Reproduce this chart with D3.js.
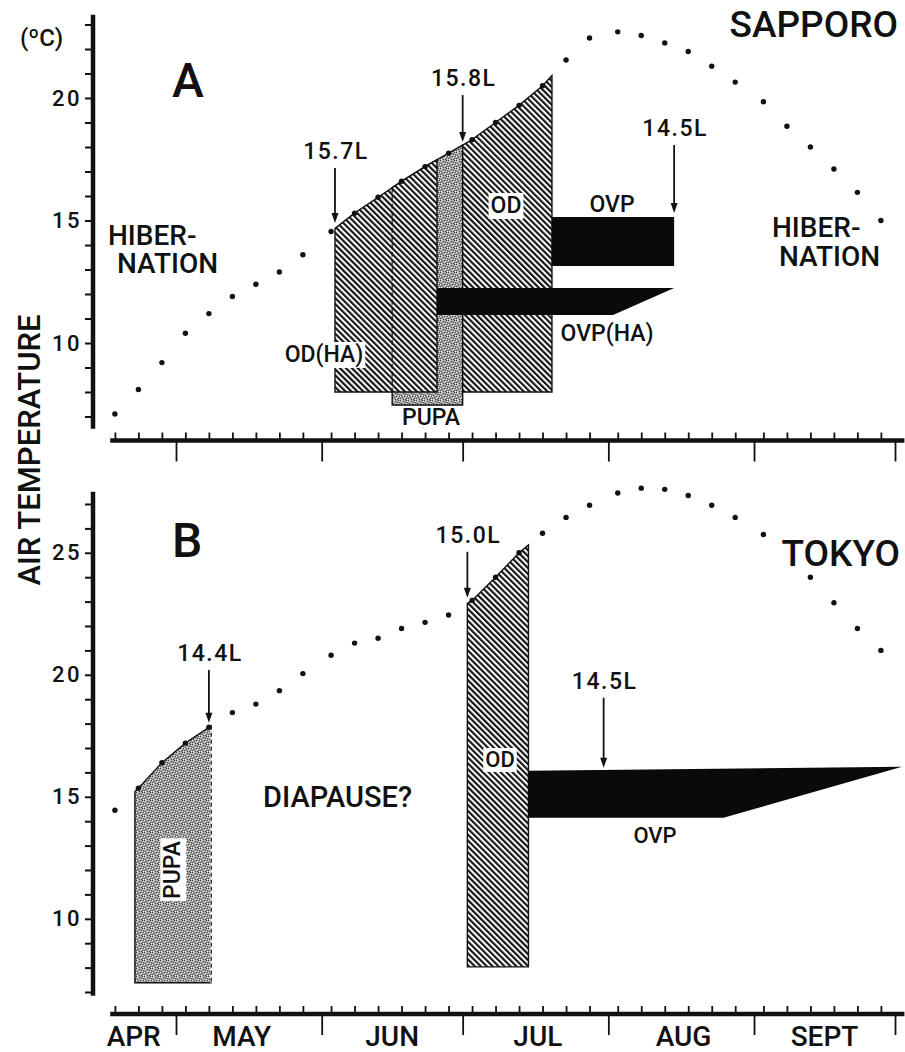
<!DOCTYPE html>
<html>
<head>
<meta charset="utf-8">
<script src="https://cdnjs.cloudflare.com/ajax/libs/d3/7.8.5/d3.min.js"></script>
<style>
  body { margin: 0; background: #fff; }
  svg { display: block; }
  text { font-family: Roboto, "Liberation Sans", sans-serif; fill: #111; font-weight: 500; }
</style>
</head>
<body>
<div id="chart"></div>
<script>
// pentad mid dates, one dot per 5-day period
var pentads = ["04-18","04-23","04-28",
  "05-03","05-08","05-13","05-18","05-23","05-28",
  "06-03","06-08","06-13","06-18","06-23","06-28",
  "07-03","07-08","07-13","07-18","07-23","07-28",
  "08-03","08-08","08-13","08-18","08-23","08-28",
  "09-03","09-08","09-13","09-18","09-23","09-28"];

// mean air temperature (C) per pentad
var sapporo = [7.1, 8.1, 9.2,
  10.4, 11.2, 11.9, 12.4, 12.9, 13.6,
  14.55, 15.3, 15.95, 16.6, 17.2, 17.75,
  18.3, 19.0, 19.7, 20.5, 21.55, 22.45,
  22.7, 22.55, 22.25, 21.9, 21.3, 20.65,
  19.85, 18.85, 18.0, 17.1, 16.15, 15.0];
var tokyo = [14.45, 15.35, 16.4,
  17.2, 17.85, 18.45, 18.8, 19.35, 20.05,
  20.8, 21.3, 21.5, 21.9, 22.15, 22.45,
  23.05, 24.0, 25.0, 25.8, 26.45, 26.95,
  27.45, 27.65, 27.6, 27.35, 26.95, 26.45,
  25.75, null, 24.0, 22.95, 21.9, 21.0];

var monthNames = ["APR","MAY","JUN","JUL","AUG","SEPT"];
var monthLabelDates = ["04-22","05-15","06-16","07-17","08-17","09-16"];
var monthStarts = ["05-01","06-01","07-01","08-01","09-01","10-01"];
var yLabelsA = [10, 15, 20];
var yLabelsB = [10, 15, 20, 25];

// developmental stages (top follows the temperature curve)
var stagesA = [
  {name: "PUPA",   start: "06-16",       end: "07-01",       low: 7.47, fill: "stipple", dashStart: 8.0},
  {name: "OD(HA)", start: "06-03T20:00", end: "06-25T13:00", low: 8.0,  fill: "hatch"},
  {name: "OD",     start: "07-01",       end: "07-20",       low: 8.0,  fill: "hatch"}
];
var stagesB = [
  {name: "PUPA", start: "04-22T06:00", end: "05-08T12:00", low: 7.38, fill: "stipple", dashEnd: true},
  {name: "OD",   start: "07-02",       end: "07-15",       low: 8.03, fill: "hatch"}
];

// oviposition bars
var barsA = [
  {name: "OVP(HA)", start: "06-25T13:00", end: "08-15", endLow: "08-02", top: 12.24, topEnd: 12.24, low: 11.14},
  {name: "OVP",     start: "07-20",       end: "08-15", endLow: "08-15", top: 15.14, topEnd: 15.14, low: 13.14}
];
var barsB = [
  {name: "OVP", start: "07-15", end: "10-02T12:00", endLow: "08-25T12:00", top: 16.07, topEnd: 16.23, low: 14.14}
];

// critical photoperiod arrows
var arrowsA = [
  {label: "15.7L", date: "06-03T20:00", from: 17.14, to: 14.9},
  {label: "15.8L", date: "07-01",       from: 20.12, to: 18.2},
  {label: "14.5L", date: "08-15",       from: 18.08, to: 15.31}
];
var arrowsB = [
  {label: "14.4L", date: "05-08",       from: 20.2,  to: 18.03},
  {label: "15.0L", date: "07-02",       from: 25.04, to: 23.16},
  {label: "14.5L", date: "07-31",       from: 19.06, to: 16.19}
];

function day(s) { return new Date("2001-" + s + (s.length == 5 ? "T00:00" : "")); }
var pentadDates = pentads.map(day);

var W = 905, H = 1052;
var svg = d3.select("#chart").append("svg").attr("width", W).attr("height", H);
var defs = svg.append("defs");

var hatch = defs.append("pattern").attr("id", "hatch")
    .attr("patternUnits", "userSpaceOnUse")
    .attr("width", 4.2).attr("height", 10)
    .attr("patternTransform", "rotate(-45)");
hatch.append("rect").attr("width", 4.2).attr("height", 10).attr("fill", "#fff");
hatch.append("line").attr("x1", 1.1).attr("x2", 1.1).attr("y1", 0).attr("y2", 10)
    .attr("stroke", "#0d0d0d").attr("stroke-width", 2.1);

// speckled grey for pupa
var stip = defs.append("pattern").attr("id", "stipple")
    .attr("patternUnits", "userSpaceOnUse").attr("width", 8).attr("height", 8);
stip.append("rect").attr("width", 8).attr("height", 8).attr("fill", "#a4a4a4");
[[0,0],[3,1],[6,0],[1,3],[5,2],[7,4],[2,5],[4,4],[0,6],[6,6],[3,7],[5,7],[7,2]].forEach(function(p) {
  stip.append("rect").attr("x", p[0]).attr("y", p[1]).attr("width", 1).attr("height", 1).attr("fill", "#444");
});
[[2,0],[5,5],[7,1],[0,4],[3,3],[6,3],[1,7],[4,6],[7,7],[1,1]].forEach(function(p) {
  stip.append("rect").attr("x", p[0]).attr("y", p[1]).attr("width", 1).attr("height", 1).attr("fill", "#e4e4e4");
});

var x = d3.scaleTime().domain([day("05-01"), day("10-01")]).range([176, 895]);

var panels = [
  {vals: sapporo, y: d3.scaleLinear().domain([7, 23]).range([416.5, 24.5]), axisY: 440.5,
   yExt: [6.5, 23.4], ticks: d3.range(7, 24), labels: yLabelsA,
   stages: stagesA, bars: barsA, arrows: arrowsA, months: false},
  {vals: tokyo, y: d3.scaleLinear().domain([7, 27]).range([992, 504]), axisY: 1014,
   yExt: [6.85, 27.5], ticks: d3.range(7, 28), labels: yLabelsB,
   stages: stagesB, bars: barsB, arrows: arrowsB, months: true}
];

function tempAt(vals, t) {
  var i = d3.bisectRight(pentadDates, t);
  var a = i - 1, b = i;
  var f = (t - pentadDates[a]) / (pentadDates[b] - pentadDates[a]);
  return vals[a] + f * (vals[b] - vals[a]);
}

function note(g, txt, px, py, o) {
  o = o || {};
  var t = g.append("text").attr("x", px).attr("y", py).text(txt)
      .attr("font-size", o.size || 23)
      .attr("text-anchor", o.anchor || "start");
  if (o.ls) t.attr("letter-spacing", o.ls);
  if (o.dy) t.attr("dy", o.dy);
  if (o.rotate) t.attr("transform", "rotate(" + o.rotate + "," + px + "," + py + ")");
  if (o.bg) {
    var b = t.node().getBBox();
    var r = g.insert("rect", function() { return t.node(); })
        .attr("x", b.x - 2).attr("y", b.y + 1).attr("width", b.width + 4).attr("height", b.height - 1)
        .attr("fill", "#fff");
    if (o.rotate) r.attr("transform", t.attr("transform"));
  }
  return t;
}

// two-line label in one text element
function note2(g, l1, x1, l2, x2, py, gap, size) {
  var t = g.append("text").attr("font-size", size);
  t.append("tspan").attr("x", x1).attr("y", py).text(l1);
  t.append("tspan").attr("x", x2).attr("y", py + gap).text(l2);
  return t;
}

var line = d3.line();

panels.forEach(function(p) {
  var g = svg.append("g");
  var y = p.y;

  // stage polygons
  p.stages.forEach(function(s) {
    var t0 = day(s.start), t1 = day(s.end);
    var pts = [[x(t0), y(s.low)], [x(t0), y(tempAt(p.vals, t0))]];
    pentadDates.forEach(function(d, i) {
      if (d > t0 && d < t1 && p.vals[i] != null) pts.push([x(d), y(p.vals[i])]);
    });
    pts.push([x(t1), y(tempAt(p.vals, t1))], [x(t1), y(s.low)]);
    g.append("path").attr("d", line(pts) + "Z")
        .attr("fill", "url(#" + s.fill + ")")
        .attr("stroke", "#111").attr("stroke-width", 1.4);
    if (s.dashEnd) {
      g.append("line").attr("x1", x(t1)).attr("x2", x(t1))
          .attr("y1", y(tempAt(p.vals, t1))).attr("y2", y(s.low))
          .attr("stroke", "#fff").attr("stroke-width", 2);
      g.append("line").attr("x1", x(t1)).attr("x2", x(t1))
          .attr("y1", y(tempAt(p.vals, t1))).attr("y2", y(s.low))
          .attr("stroke", "#222").attr("stroke-width", 1.3).attr("stroke-dasharray", "4,3");
    }
    s._t0 = t0;
  });
  p.stages.forEach(function(s) {
    if (s.dashStart != null) {
      g.append("line").attr("x1", x(s._t0)).attr("x2", x(s._t0))
          .attr("y1", y(tempAt(p.vals, s._t0))).attr("y2", y(s.dashStart))
          .attr("stroke", "#111").attr("stroke-width", 1.2).attr("stroke-dasharray", "5,3");
    }
  });

  // oviposition bars
  p.bars.forEach(function(b) {
    var pts = [[x(day(b.start)), y(b.top)], [x(day(b.end)), y(b.topEnd)],
               [x(day(b.endLow)), y(b.low)], [x(day(b.start)), y(b.low)]];
    g.append("path").attr("d", line(pts) + "Z").attr("fill", "#0a0a0a");
  });

  // temperature dots
  g.selectAll("circle.t").data(p.vals.map(function(v, i) { return {d: pentadDates[i], v: v}; })
      .filter(function(d) { return d.v != null; }))
    .enter().append("circle")
      .attr("cx", function(d) { return x(d.d); })
      .attr("cy", function(d) { return y(d.v); })
      .attr("r", 2.7).attr("fill", "#111");

  // arrows
  p.arrows.forEach(function(a) {
    var ax = x(day(a.date)), y0 = y(a.from), y1 = y(a.to);
    g.append("line").attr("x1", ax).attr("x2", ax).attr("y1", y0).attr("y2", y1 - 7)
        .attr("stroke", "#111").attr("stroke-width", 1.8);
    g.append("path").attr("d", "M" + (ax - 3.5) + "," + (y1 - 10) + "L" + (ax + 3.5) + "," + (y1 - 10) + "L" + ax + "," + y1 + "Z")
        .attr("fill", "#111");
    note(g, a.label, ax + 1, y0 - 9, {size: 23, anchor: "middle", ls: 1.5});
  });

  // y axis
  g.append("line").attr("x1", 93).attr("x2", 93)
      .attr("y1", y(p.yExt[0])).attr("y2", y(p.yExt[1]))
      .attr("stroke", "#111").attr("stroke-width", 4.5);
  var ya = g.append("g").attr("transform", "translate(93,0)")
      .call(d3.axisLeft(y).tickValues(p.ticks).tickSize(8).tickPadding(3)
        .tickFormat(function(d) { return p.labels.indexOf(d) >= 0 ? d : ""; }));
  ya.select(".domain").remove();
  ya.selectAll("line").attr("stroke", "#111").attr("stroke-width", 2);
  ya.selectAll("text").attr("font-size", 22).attr("letter-spacing", 2.5)
      .attr("font-family", "Roboto, 'Liberation Sans', sans-serif").attr("fill", "#111");

  // x axis
  g.append("line").attr("x1", x(day("04-17"))).attr("x2", x(day("10-03")))
      .attr("y1", p.axisY).attr("y2", p.axisY)
      .attr("stroke", "#111").attr("stroke-width", 4.5);
  var minor = g.append("g").attr("transform", "translate(0," + p.axisY + ")")
      .call(d3.axisTop(x).tickValues(pentadDates).tickSize(8).tickFormat(""));
  var major = g.append("g").attr("transform", "translate(0," + p.axisY + ")")
      .call(d3.axisBottom(x).tickValues(monthStarts.map(day)).tickSize(21).tickFormat(""));
  [minor, major].forEach(function(a) {
    a.select(".domain").remove();
    a.selectAll("line").attr("stroke", "#111").attr("stroke-width", 1.8);
  });
  if (p.months) {
    monthNames.forEach(function(m, i) {
      note(g, m, x(day(monthLabelDates[i])), 1046, {size: 28, anchor: "middle"});
    });
  }
});

// panel A annotations
var gA = svg.append("g");
note(gA, "(\u00baC)", 20, 46, {size: 24});
note(gA, "A", 172, 97, {size: 48});
note(gA, "SAPPORO", 898, 37, {size: 37, anchor: "end"});
note2(gA, "HIBER-", 108, "NATION", 117, 245, 28, 28);
note2(gA, "HIBER-", 772, "NATION", 779, 237, 29, 28);
note(gA, "OD(HA)", 324, 362, {size: 23, anchor: "middle", bg: true});
note(gA, "PUPA", 431, 425, {size: 23, anchor: "middle"});
note(gA, "OD", 506, 213, {size: 23, anchor: "middle", bg: true});
note(gA, "OVP", 612, 212, {size: 23, anchor: "middle"});
note(gA, "OVP(HA)", 607, 341, {size: 23, anchor: "middle"});

// panel B annotations
var gB = svg.append("g");
note(gB, "B", 172, 557, {size: 48});
note(gB, "TOKYO", 900, 566, {size: 37, anchor: "end"});
note(gB, "DIAPAUSE?", 263, 807, {size: 29});
note(gB, "PUPA", 172, 870, {size: 23, anchor: "middle", dy: "0.36em", rotate: -90, bg: true});
note(gB, "OD", 500, 767, {size: 22, anchor: "middle", bg: true});
note(gB, "OVP", 655, 843, {size: 22, anchor: "middle"});

note(svg, "AIR TEMPERATURE", 29, 450, {size: 31, anchor: "middle", dy: "0.36em", rotate: -90});
</script>
</body>
</html>
